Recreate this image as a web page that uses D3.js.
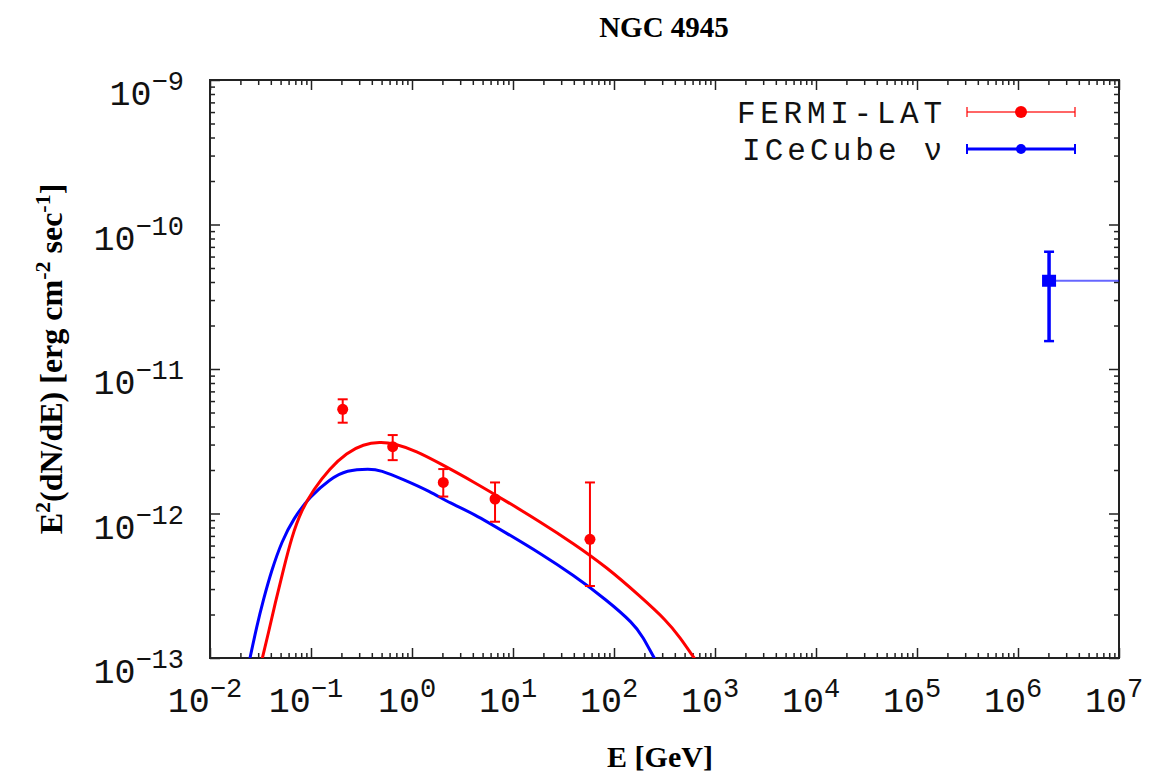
<!DOCTYPE html>
<html><head><meta charset="utf-8">
<script src="https://cdn.jsdelivr.net/npm/d3@7"></script>
<style>html,body{margin:0;padding:0;background:#fff}</style>
</head><body>
<svg id="c" width="1165" height="778"></svg>
<script>
// ---- data ----
const xTickExps = [-2, -1, 0, 1, 2, 3, 4, 5, 6, 7];
const yTickExps = [-13, -12, -11, -10, -9];

const fermiE   = [0.206, 0.644, 2.04, 6.64, 57.8];
const fermiF   = [5.26e-12, 2.90e-12, 1.64e-12, 1.26e-12, 6.63e-13];
const fermiFlo = [4.25e-12, 2.34e-12, 1.31e-12, 8.77e-13, 3.15e-13];
const fermiFhi = [6.17e-12, 3.49e-12, 2.03e-12, 1.64e-12, 1.64e-12];

const icE   = [2.03e6];
const icF   = [4.08e-11];
const icFlo = [1.56e-11];
const icFhi = [6.48e-11];
const icElo = [2.03e6];
const icEhi = [1e8];

const gammaModelE = [0.0292, 0.0330, 0.0378, 0.0441, 0.0532, 0.0644, 0.0809, 0.1054, 0.154, 0.225, 0.330, 0.482, 0.653, 1.114, 1.89, 4.05, 8.67, 18.5, 39.5, 84.7, 181, 333, 450, 610, 873];
const gammaModelF = [7.05e-14, 1.0e-13, 1.48e-13, 2.39e-13, 4.06e-13, 6.90e-13, 1.06e-12, 1.46e-12, 2.06e-12, 2.63e-12, 3.02e-12, 3.13e-12, 3.07e-12, 2.70e-12, 2.22e-12, 1.66e-12, 1.21e-12, 8.77e-13, 6.22e-13, 4.25e-13, 2.68e-13, 1.81e-13, 1.39e-13, 1.02e-13, 7.05e-14];

const nuModelE = [0.0224, 0.0249, 0.0290, 0.0337, 0.0408, 0.0513, 0.0668, 0.0977, 0.154, 0.225, 0.384, 0.482, 0.821, 1.51, 2.38, 4.05, 8.67, 18.5, 39.5, 84.7, 155, 194, 245, 335];
const nuModelF = [7.05e-14, 1.0e-13, 1.65e-13, 2.52e-13, 4.06e-13, 6.40e-13, 9.20e-13, 1.31e-12, 1.73e-12, 2.00e-12, 2.04e-12, 2.00e-12, 1.72e-12, 1.42e-12, 1.18e-12, 1.00e-12, 7.29e-13, 5.31e-13, 3.75e-13, 2.52e-13, 1.74e-13, 1.40e-13, 1.02e-13, 7.05e-14];

const titleText = "NGC 4945";
const xTitle = "E [GeV]";
const legendLabels = ["FERMI-LAT", "ICeCube \u03BD"];

// ---- layout ----
const L = 210, R = 1119, T = 80, B = 658;
const x = d3.scaleLog().domain([1e-2, 1e7]).range([L, R]);
const y = d3.scaleLog().domain([1e-13, 1e-9]).range([B, T]);
const svg = d3.select("#c");
const RED = "#ff0000", BLUE = "#0000ff";
const monoFont = "'Liberation Mono', 'DejaVu Sans Mono', monospace";
const serifFont = "'Liberation Serif', 'DejaVu Serif', serif";

svg.append("defs").append("clipPath").attr("id", "clip")
  .append("rect").attr("x", L).attr("y", T).attr("width", R - L).attr("height", B - T);

function minors(lo, hi) {
  const out = [];
  for (let e = lo; e < hi; e++) for (let k = 2; k <= 9; k++) out.push(k * Math.pow(10, e));
  return out;
}
const xMaj = xTickExps.map(e => Math.pow(10, e));
const yMaj = yTickExps.map(e => Math.pow(10, e));
const xMin = minors(-2, 7), yMin = minors(-13, -9);

function axisGroup(axis, tx, ty) {
  const g = svg.append("g").attr("transform", `translate(${tx},${ty})`).call(axis);
  g.select(".domain").remove();
  g.selectAll("line").attr("stroke", "#222").attr("stroke-width", 1.5);
  g.selectAll("text").remove();
  return g;
}
axisGroup(d3.axisBottom(x).tickValues(xMaj).tickSizeInner(-10).tickSizeOuter(0), 0, B);
axisGroup(d3.axisBottom(x).tickValues(xMin).tickSizeInner(-5).tickSizeOuter(0), 0, B);
axisGroup(d3.axisTop(x).tickValues(xMaj).tickSizeInner(-10).tickSizeOuter(0), 0, T);
axisGroup(d3.axisTop(x).tickValues(xMin).tickSizeInner(-5).tickSizeOuter(0), 0, T);
axisGroup(d3.axisLeft(y).tickValues(yMaj).tickSizeInner(-10).tickSizeOuter(0), L, 0);
axisGroup(d3.axisLeft(y).tickValues(yMin).tickSizeInner(-5).tickSizeOuter(0), L, 0);
axisGroup(d3.axisRight(y).tickValues(yMaj).tickSizeInner(-10).tickSizeOuter(0), R, 0);
axisGroup(d3.axisRight(y).tickValues(yMin).tickSizeInner(-5).tickSizeOuter(0), R, 0);

svg.append("rect").attr("x", L).attr("y", T).attr("width", R - L).attr("height", B - T)
  .attr("fill", "none").attr("stroke", "#222").attr("stroke-width", 2);

// tick labels
xTickExps.forEach(e => {
  const t = svg.append("text").attr("x", x(Math.pow(10, e)) - 5).attr("y", B + 54)
    .attr("text-anchor", "middle").attr("font-family", monoFont).attr("font-size", 35).attr("fill", "#111");
  t.append("tspan").text("10");
  t.append("tspan").attr("dy", -15).attr("font-size", 27).text(e < 0 ? "\u2212" + (-e) : String(e));
});
yTickExps.forEach(e => {
  const t = svg.append("text").attr("x", 184).attr("y", y(Math.pow(10, e)) + 25)
    .attr("text-anchor", "end").attr("font-family", monoFont).attr("font-size", 35).attr("fill", "#111");
  t.append("tspan").text("10");
  t.append("tspan").attr("dy", -15).attr("font-size", 27).text("\u2212" + (-e));
});

// titles
svg.append("text").attr("x", 664).attr("y", 37).attr("text-anchor", "middle")
  .attr("font-family", serifFont).attr("font-weight", "bold").attr("font-size", 29).text(titleText);
svg.append("text").attr("x", 660).attr("y", 767).attr("text-anchor", "middle")
  .attr("font-family", serifFont).attr("font-weight", "bold").attr("font-size", 30).text(xTitle);
const yt = svg.append("text").attr("transform", "translate(62,359) rotate(-90)").attr("text-anchor", "middle")
  .attr("font-family", serifFont).attr("font-weight", "bold").attr("font-size", 32);
yt.append("tspan").text("E");
yt.append("tspan").attr("dy", -12).attr("font-size", 22).text("2");
yt.append("tspan").attr("dy", 12).text("(dN/dE) [erg cm");
yt.append("tspan").attr("dy", -12).attr("font-size", 22).text("-2");
yt.append("tspan").attr("dy", 12).text(" sec");
yt.append("tspan").attr("dy", -12).attr("font-size", 22).text("-1");
yt.append("tspan").attr("dy", 12).text("]");

// model curves
const plot = svg.append("g").attr("clip-path", "url(#clip)");
const line = d3.line().x(d => x(d[0])).y(d => y(d[1])).curve(d3.curveBasis);
plot.append("path").datum(nuModelE.map((e, i) => [e, nuModelF[i]]))
  .attr("d", line).attr("fill", "none").attr("stroke", BLUE).attr("stroke-width", 3);
plot.append("path").datum(gammaModelE.map((e, i) => [e, gammaModelF[i]]))
  .attr("d", line).attr("fill", "none").attr("stroke", RED).attr("stroke-width", 3);

// Fermi points
fermiE.forEach((e, i) => {
  const cx = x(e);
  plot.append("line").attr("x1", cx).attr("x2", cx).attr("y1", y(fermiFlo[i])).attr("y2", y(fermiFhi[i]))
    .attr("stroke", RED).attr("stroke-width", 2);
  [fermiFlo[i], fermiFhi[i]].forEach(v => plot.append("line")
    .attr("x1", cx - 5).attr("x2", cx + 5).attr("y1", y(v)).attr("y2", y(v))
    .attr("stroke", RED).attr("stroke-width", 2));
  plot.append("circle").attr("cx", cx).attr("cy", y(fermiF[i])).attr("r", 5.5).attr("fill", RED);
});

// IceCube point
icE.forEach((e, i) => {
  const cx = x(e), cy = y(icF[i]);
  plot.append("line").attr("x1", x(icElo[i])).attr("x2", x(icEhi[i])).attr("y1", cy).attr("y2", cy)
    .attr("stroke", BLUE).attr("stroke-width", 2).attr("stroke-opacity", 0.6);
  plot.append("line").attr("x1", cx).attr("x2", cx).attr("y1", y(icFlo[i])).attr("y2", y(icFhi[i]))
    .attr("stroke", BLUE).attr("stroke-width", 3.5);
  [icFlo[i], icFhi[i]].forEach(v => plot.append("line")
    .attr("x1", cx - 5).attr("x2", cx + 5).attr("y1", y(v)).attr("y2", y(v))
    .attr("stroke", BLUE).attr("stroke-width", 2.5));
  plot.append("rect").attr("x", cx - 7).attr("y", cy - 6).attr("width", 14).attr("height", 12).attr("fill", BLUE);
});

// legend
const leg = [
  {label: legendLabels[0], color: RED, ly: 112, op: 0.6, w: 2, r: 6, tl: 205},
  {label: legendLabels[1], color: BLUE, ly: 149, op: 1, w: 3, r: 5, tl: 200}
];
leg.forEach(d => {
  svg.append("text").attr("x", 942).attr("y", d.ly + 11).attr("text-anchor", "end")
    .attr("font-family", monoFont).attr("font-size", 31).attr("fill", "#111")
    .attr("textLength", d.tl).attr("lengthAdjust", "spacing").text(d.label);
  svg.append("line").attr("x1", 967).attr("x2", 1075).attr("y1", d.ly).attr("y2", d.ly)
    .attr("stroke", d.color).attr("stroke-width", d.w).attr("stroke-opacity", d.op);
  [967, 1075].forEach(cx => svg.append("line").attr("x1", cx).attr("x2", cx)
    .attr("y1", d.ly - 5).attr("y2", d.ly + 5).attr("stroke", d.color).attr("stroke-width", 2).attr("stroke-opacity", d.op));
  svg.append("circle").attr("cx", 1021).attr("cy", d.ly).attr("r", d.r).attr("fill", d.color);
});
</script>
</body></html>
